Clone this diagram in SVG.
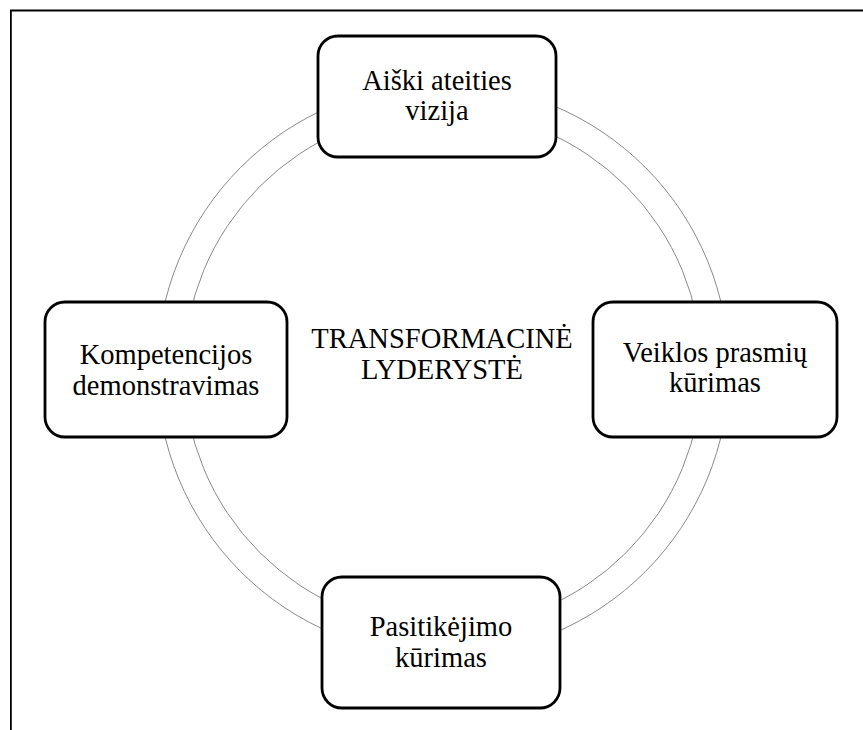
<svg xmlns="http://www.w3.org/2000/svg" width="863" height="730" viewBox="0 0 863 730">
<style>
.box{fill:#fff;stroke:#000;stroke-width:2.8}
.ring{fill:none;stroke:#8a8a8a;stroke-width:1}
text{font-family:"Liberation Serif","Times New Roman",serif;font-size:28.5px;fill:#000;text-anchor:middle}
</style>
<rect width="863" height="730" fill="#fff"/>
<g id="frame">
<line x1="10" y1="10.5" x2="863" y2="10.5" stroke="#000" stroke-width="1.8"/>
<line x1="10.9" y1="10" x2="10.9" y2="730" stroke="#000" stroke-width="1.8"/>
</g>
<g id="connectors">
<circle class="ring" cx="443" cy="369.5" r="286"/>
<circle class="ring" cx="443" cy="369.5" r="259"/>
</g>
<g id="center">
<text x="442" y="348">TRANSFORMACINĖ</text>
<text x="442" y="379">LYDERYSTĖ</text>
</g>
<g id="node-top">
<rect class="box" x="318" y="36" width="238" height="121" rx="20"/>
<text x="437" y="90">Aiški ateities</text>
<text x="437" y="120">vizija</text>
</g>
<g id="node-right">
<rect class="box" x="593" y="302" width="244" height="135" rx="20"/>
<text x="715" y="362">Veiklos prasmių</text>
<text x="715" y="392">kūrimas</text>
</g>
<g id="node-left">
<rect class="box" x="45" y="302" width="242" height="135" rx="20"/>
<text x="166" y="364">Kompetencijos</text>
<text x="166" y="395">demonstravimas</text>
</g>
<g id="node-bottom">
<rect class="box" x="322" y="577" width="238" height="131" rx="20"/>
<text x="441" y="636">Pasitikėjimo</text>
<text x="441" y="667">kūrimas</text>
</g>
</svg>
